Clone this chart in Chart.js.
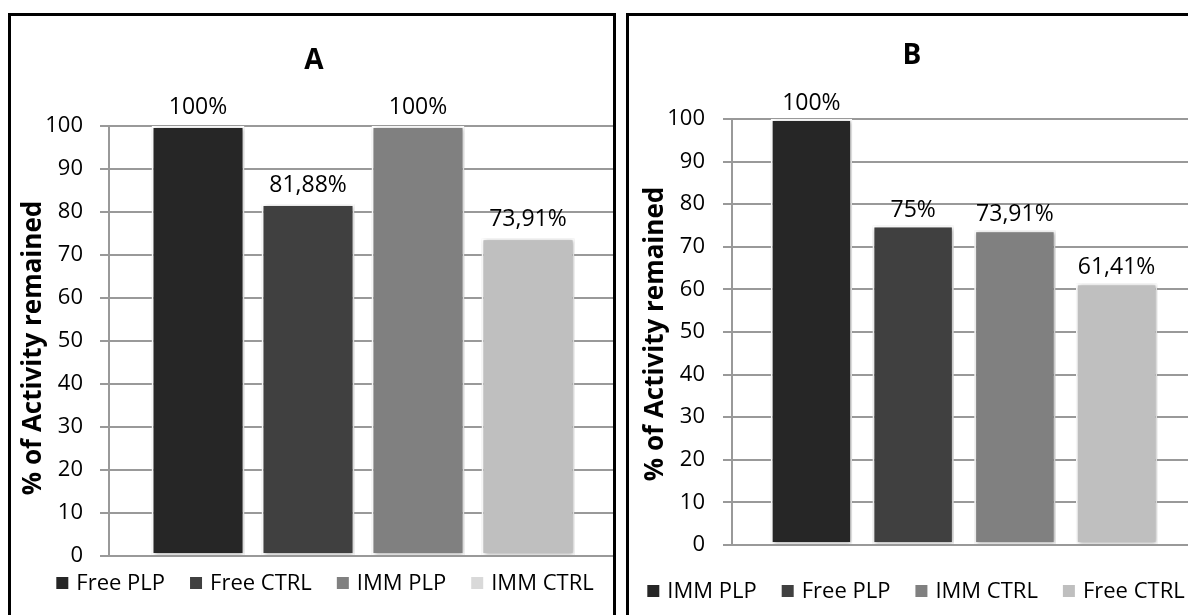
<!DOCTYPE html>
<html>
<head>
<meta charset="utf-8">
<script src="https://cdn.jsdelivr.net/npm/chart.js@4.4.1/dist/chart.umd.min.js"></script>
<style>
  html, body { margin: 0; padding: 0; background: #fff; overflow: hidden; width: 1188px; height: 615px; }
  .panel { position: absolute; top: 13px; height: 620px; border: 3px solid #000; border-bottom: none; overflow: hidden; background: #fff; }
  #panelA { left: 8px; width: 602px; }
  #panelB { left: 626px; width: 600px; }
  .panel canvas { position: absolute; left: 0; top: 0; }
</style>
</head>
<body>
<div class="panel" id="panelA"><canvas id="chartA" width="606" height="599" style="width:606px;height:599px"></canvas></div>
<div class="panel" id="panelB"><canvas id="chartB" width="567" height="599" style="width:567px;height:599px"></canvas></div>
<script>
// ---- data ----
const groupLabel = [''];
const seriesA = ['Free PLP', 'Free CTRL', 'IMM PLP', 'IMM CTRL'];
const valuesA = [100, 81.88, 100, 73.91];
const seriesB = ['IMM PLP', 'Free PLP', 'IMM CTRL', 'Free CTRL'];
const valuesB = [100, 75, 73.91, 61.41];
const yMin = 0, yMax = 100, yStep = 10;
const axisTitle = '% of Activity remained';

// ---- styling ----
const FONT = "'Open Sans', 'Noto Sans', sans-serif";
const barColorsA = ['#262626', '#404040', '#808080', '#bfbfbf'];
const keyColorsA = ['#262626', '#404040', '#808080', '#d9d9d9'];
const barColorsB = ['#262626', '#404040', '#808080', '#bfbfbf'];
const keyColorsB = ['#262626', '#404040', '#808080', '#bfbfbf'];
const GRID = '#999999';

const fmtPct = v => String(v).replace('.', ',') + '%';

// soft drop shadow behind each bar
const barShadow = {
  id: 'barShadow',
  beforeDatasetDraw(chart) {
    const ctx = chart.ctx;
    ctx.save();
    ctx.shadowColor = 'rgba(0,0,0,0.35)';
    ctx.shadowBlur = 4;
    ctx.shadowOffsetX = 1;
    ctx.shadowOffsetY = 1;
  },
  afterDatasetDraw(chart) { chart.ctx.restore(); }
};

// value labels above the bars
const valueLabels = {
  id: 'valueLabels',
  afterDatasetsDraw(chart, args, o) {
    const ctx = chart.ctx;
    ctx.save();
    ctx.font = `23px ${FONT}`;
    ctx.fillStyle = '#000';
    ctx.textAlign = 'center';
    ctx.textBaseline = 'alphabetic';
    chart.data.datasets.forEach((ds, i) => {
      chart.getDatasetMeta(i).data.forEach((bar, j) => {
        ctx.fillText(fmtPct(ds.data[j]), bar.x, bar.y - o.offset);
      });
    });
    ctx.restore();
  }
};

// panel heading, rotated axis title and the series key row
const panelText = {
  id: 'panelText',
  afterDraw(chart, args, o) {
    const ctx = chart.ctx;
    ctx.save();
    ctx.fillStyle = '#000';
    ctx.textAlign = 'center';
    ctx.textBaseline = 'middle';
    ctx.font = `bold 28px ${FONT}`;
    ctx.fillText(o.heading, o.headingX, o.headingY);

    ctx.save();
    ctx.translate(o.axisX, o.axisY);
    ctx.rotate(-Math.PI / 2);
    ctx.font = `bold 26px ${FONT}`;
    ctx.fillText(axisTitle, 0, 0);
    ctx.restore();

    // key row
    ctx.font = `22px ${FONT}`;
    ctx.textAlign = 'left';
    const box = 12, gap = 8, itemGap = 25;
    const names = chart.data.datasets.map(d => d.label);
    const widths = names.map(n => box + gap + ctx.measureText(n).width);
    const total = widths.reduce((a, b) => a + b, 0) + itemGap * (names.length - 1);
    let x = o.keyX - total / 2;
    names.forEach((n, i) => {
      ctx.fillStyle = o.keyColors[i];
      ctx.fillRect(x, o.keyY - box / 2, box, box);
      ctx.fillStyle = '#000';
      ctx.fillText(n, x + box + gap, o.keyY + 1);
      x += widths[i] + itemGap;
    });
    ctx.restore();
  }
};

function makeChart(id, series, values, colors, cfg) {
  return new Chart(document.getElementById(id), {
    type: 'bar',
    data: {
      labels: groupLabel,
      datasets: series.map((s, i) => ({
        label: s,
        data: [values[i]],
        backgroundColor: colors[i],
        borderColor: '#ffffff',
        borderWidth: 2,
        borderSkipped: false,
        categoryPercentage: cfg.catPct,
        barPercentage: cfg.barPct
      }))
    },
    options: {
      responsive: false,
      animation: false,
      devicePixelRatio: 1,
      layout: { padding: cfg.padding },
      plugins: {
        legend: { display: false },
        tooltip: { enabled: false },
        valueLabels: { offset: cfg.labelOffset },
        panelText: cfg.text
      },
      scales: {
        x: { display: false },
        y: {
          min: yMin, max: yMax,
          afterFit: s => { s.width = cfg.yWidth; },
          ticks: { stepSize: yStep, color: '#000', padding: cfg.tickPad, font: { family: FONT, size: 22 } },
          grid: { color: GRID, lineWidth: 2, tickLength: 9, drawTicks: true },
          border: { display: true, color: GRID, width: 2 }
        }
      }
    },
    plugins: [barShadow, valueLabels, panelText]
  });
}

makeChart('chartA', seriesA, valuesA, barColorsA, {
  catPct: 0.866, barPct: 0.845, labelOffset: 12, yWidth: 76, tickPad: 17,
  padding: { left: 22, right: 0, top: 110, bottom: 59 },
  text: { heading: 'A', headingX: 303, headingY: 45, axisX: 23, axisY: 332,
          keyX: 314, keyY: 567, keyColors: keyColorsA }
});

makeChart('chartB', seriesB, valuesB, barColorsB, {
  catPct: 0.877, barPct: 0.80, labelOffset: 9, yWidth: 96, tickPad: 18,
  padding: { left: 7, right: 0, top: 103, bottom: 70 },
  text: { heading: 'B', headingX: 283, headingY: 40, axisX: 27, axisY: 318,
          keyX: 287, keyY: 575, keyColors: keyColorsB }
});
</script>
</body>
</html>
